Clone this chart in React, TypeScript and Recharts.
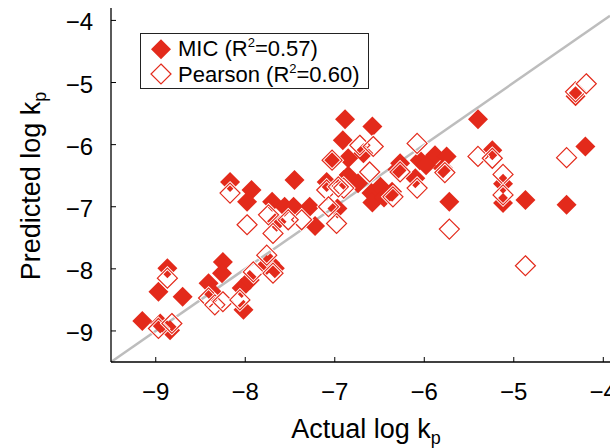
import React from 'react';
import { ScatterChart, Scatter, XAxis, YAxis, ReferenceLine, Legend } from 'recharts';

// MIC (filled diamonds)
const micActual = [
  -5.40, -5.24, -5.12, -5.12, -4.87, -5.72, -4.41, -4.20, -4.31,
  -6.885, -6.58, -6.91, -7.02, -6.85, -6.68, -7.09, -6.90, -6.74, -6.59, -6.49, -6.36, -6.27, -6.10, -6.05, -5.88, -5.79, -5.75, -7.28, -6.97, -7.22,
  -6.58, -6.45, -6.30, -5.98, -6.85,
  -8.17, -7.93, -7.98, -7.45, -7.70, -7.56, -7.46, -7.65, -8.25, -7.72,
  -8.87, -8.97, -8.70, -9.15, -8.95, -8.84, -8.41, -8.26, -8.36, -8.04, -8.02, -7.95, -7.76, -7.67,
];
const micPredicted = [
  -5.59, -6.09, -6.63, -6.94, -6.89, -6.92, -6.97, -6.03, -5.22,
  -5.59, -5.71, -5.93, -6.25, -6.22, -6.14, -6.60, -6.57, -6.62, -6.78, -6.68, -6.76, -6.30, -6.54, -6.25, -6.17, -6.38, -6.19, -7.00, -7.03, -7.31,
  -6.93, -6.85, -6.40, -6.33, -6.50,
  -6.60, -6.73, -6.92, -6.57, -6.92, -7.00, -7.00, -7.24, -7.89, -7.91,
  -7.99, -8.37, -8.45, -8.84, -8.88, -8.99, -8.23, -8.07, -8.39, -8.31, -8.66, -8.18, -7.94, -7.99,
];

// Pearson (open diamonds)
const pearsonActual = [
  -5.40, -5.24, -5.12, -5.12, -5.72, -4.87, -4.41, -4.31, -4.19,
  -6.08, -6.72, -6.57, -7.03, -6.61, -7.09, -6.90, -6.08, -6.35, -6.27, -5.77, -7.07, -6.98, -7.37, -6.96,
  -8.17, -7.98, -7.74, -7.69, -7.52, -7.76,
  -8.87, -8.97, -8.82, -8.41, -8.34, -8.25, -8.06, -7.91, -7.69,
];
const pearsonPredicted = [
  -6.19, -6.22, -6.48, -6.81, -7.36, -7.95, -6.21, -5.15, -5.02,
  -5.98, -6.01, -6.03, -6.25, -6.44, -6.73, -6.70, -6.70, -6.84, -6.44, -6.45, -7.00, -7.27, -7.21, -6.68,
  -6.78, -7.29, -7.13, -7.43, -7.21, -7.78,
  -8.15, -8.96, -8.88, -8.47, -8.58, -8.53, -8.50, -8.05, -8.07,
];

const xTicks = [-9, -8, -7, -6, -5, -4];
const yTicks = [-9, -8, -7, -6, -5, -4];
const xDomain = [-9.5, -3.925];
const yDomain = [-9.5, -3.8];
const diagonal = [-9.5, -3.925];

const RED = '#e32a1b';
const FONT = '"Liberation Sans", Arial, Helvetica, sans-serif';

const micData = micActual.map((x, i) => ({ x, y: micPredicted[i] }));
const pearsonData = pearsonActual.map((x, i) => ({ x, y: pearsonPredicted[i] }));

const fmt = (v: number) => (v < 0 ? '\u2212' + Math.abs(v) : String(v));

const diamondPath = (cx: number, cy: number, h: number) =>
  `M${cx},${cy - h}L${cx + h},${cy}L${cx},${cy + h}L${cx - h},${cy}Z`;

const FilledDiamond = (props: any) => {
  const { cx, cy } = props;
  if (cx == null || cy == null) return null;
  return <path d={diamondPath(cx, cy, 10)} fill={RED} stroke="none" />;
};

const OpenDiamond = (props: any) => {
  const { cx, cy } = props;
  if (cx == null || cy == null) return null;
  return (
    <g>
      <path d={diamondPath(cx, cy, 10)} fill="none" stroke="#fff" strokeWidth={3} />
      <path d={diamondPath(cx, cy, 10)} fill="none" stroke={RED} strokeWidth={1.2} />
    </g>
  );
};

const BottomTick = (props: any) => {
  const { x, y, payload } = props;
  return (
    <g>
      <line x1={x} x2={x} y1={y} y2={y - 5} stroke="#000" strokeWidth={1} />
      <text x={x} y={y + 38} textAnchor="middle" fontSize={24} fontFamily={FONT} fill="#000">
        {fmt(payload.value)}
      </text>
    </g>
  );
};

const TopTick = (props: any) => {
  const { x, y } = props;
  return <line x1={x} x2={x} y1={y} y2={y + 5} stroke="#000" strokeWidth={1} />;
};

const LeftTick = (props: any) => {
  const { x, y, payload } = props;
  return (
    <g>
      <line x1={x} x2={x + 5} y1={y} y2={y} stroke="#000" strokeWidth={1} />
      <text x={x - 18} y={y + 10} textAnchor="end" fontSize={24} fontFamily={FONT} fill="#000">
        {fmt(payload.value)}
      </text>
    </g>
  );
};

const LegendBox = () => (
  <svg width={229} height={56} style={{ display: 'block' }}>
    <rect x={0.5} y={0.5} width={228} height={55} fill="#fff" stroke="#222" strokeWidth={1} />
    <path d={diamondPath(21, 16.3, 10)} fill={RED} />
    <path d={diamondPath(21, 41, 10)} fill="none" stroke={RED} strokeWidth={1.2} />
    <text x={38} y={23} fontSize={22} fontFamily={FONT} fill="#000">
      MIC (R<tspan fontSize={13} dy={-9}>2</tspan><tspan dy={9}>=0.57)</tspan>
    </text>
    <text x={38} y={48.5} fontSize={22} fontFamily={FONT} fill="#000">
      Pearson (R<tspan fontSize={13} dy={-9}>2</tspan><tspan dy={9}>=0.60)</tspan>
    </text>
  </svg>
);

export default function App() {
  return (
    <div style={{ position: 'absolute', left: 0, top: 0, background: '#fff' }}>
      <ScatterChart width={610} height={448} margin={{ top: 8, right: 0, bottom: 0, left: 0 }}>
        <XAxis
          xAxisId="top"
          orientation="top"
          type="number"
          dataKey="x"
          domain={xDomain}
          ticks={xTicks}
          allowDataOverflow
          height={0}
          tickSize={0}
          tickMargin={0}
          tickLine={false}
          tick={<TopTick />}
          axisLine={{ stroke: '#000', strokeWidth: 1.3 }}
          interval={0}
        />
        <XAxis
          type="number"
          dataKey="x"
          domain={xDomain}
          ticks={xTicks}
          allowDataOverflow
          height={86}
          tickSize={0}
          tickMargin={0}
          tickLine={false}
          tick={<BottomTick />}
          axisLine={{ stroke: '#000', strokeWidth: 1.3 }}
          interval={0}
          label={{
            content: () => (
              <text x={366} y={438} textAnchor="middle" fontSize={27} fontFamily={FONT} fill="#000">
                Actual log k<tspan fontSize={18} dy={6}>p</tspan>
              </text>
            ),
          }}
        />
        <YAxis
          type="number"
          dataKey="y"
          domain={yDomain}
          ticks={yTicks}
          allowDataOverflow
          width={111}
          tickSize={0}
          tickMargin={0}
          tickLine={false}
          tick={<LeftTick />}
          axisLine={{ stroke: '#000', strokeWidth: 1.3 }}
          interval={0}
          label={{
            content: () => (
              <text
                x={40}
                y={186}
                transform="rotate(-90 40 186)"
                textAnchor="middle"
                fontSize={27}
                fontFamily={FONT}
                fill="#000"
              >
                Predicted log k<tspan fontSize={18} dy={6}>p</tspan>
              </text>
            ),
          }}
        />
        <ReferenceLine
          segment={[
            { x: diagonal[0], y: diagonal[0] },
            { x: diagonal[1], y: diagonal[1] },
          ]}
          stroke="#bdbdbd"
          strokeWidth={2.5}
          ifOverflow="visible"
        />
        <Scatter name="MIC" data={micData} shape={<FilledDiamond />} isAnimationActive={false} />
        <Scatter name="Pearson" data={pearsonData} shape={<OpenDiamond />} isAnimationActive={false} />
        <Legend
          layout="horizontal"
          verticalAlign="middle"
          align="center"
          wrapperStyle={{ left: 140, top: 33, width: 229, height: 56 }}
          content={() => <LegendBox />}
        />
      </ScatterChart>
    </div>
  );
}
